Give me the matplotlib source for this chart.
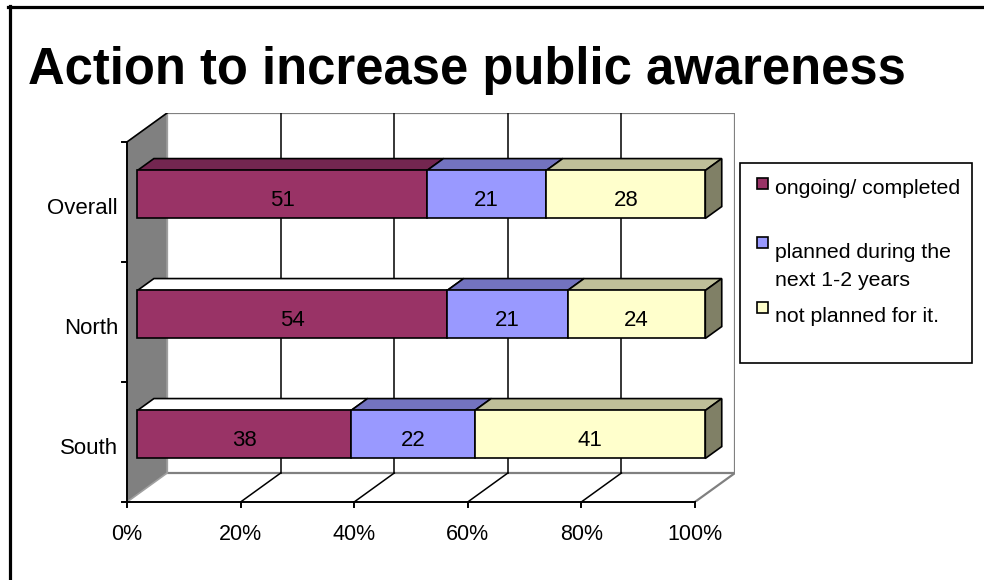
import numpy as np
import matplotlib.pyplot as plt
from matplotlib.patches import Polygon, Rectangle

plt.rcParams['font.family'] = ['Liberation Sans', 'DejaVu Sans']

# Survey answers per region (percent of respondents)
regions = ['South', 'North', 'Overall']
series = ['ongoing/ completed', 'planned during the\nnext 1-2 years', 'not planned for it.']
ongoing = [38, 54, 51]
planned = [22, 21, 21]
not_planned = [41, 24, 28]
xticks = [0, 20, 40, 60, 80, 100]

face_colors = ['#993366', '#9999FF', '#FFFFCC']
top_colors = ['#732650', '#7373BF', '#BFBF99']
side_colors = ['#4D1A33', '#4D4D80', '#808066']
# top faces the old renderer left unshaded
white_tops = {('North', 0), ('South', 0)}

W, H = 984, 580
fig = plt.figure(figsize=(W / 100, H / 100), dpi=100)


def fx(px):
    return px / W


def fy(py):
    return 1 - py / H


# oblique depth of the 3-D box, in data units
DX = 7.07
DY = 0.2417
ncat = len(regions)

ax = fig.add_axes([fx(127), fy(502), fx(735) - fx(127), fy(113) - fy(502)])
ax.set_xlim(0, 100 + DX)
ax.set_ylim(0, ncat + DY)
ax.axis('off')


def proj(x, y, d):
    return (x + d * DX, y + d * DY)


# walls
ax.add_patch(Polygon([proj(0, 0, 1), proj(100, 0, 1), proj(100, ncat, 1), proj(0, ncat, 1)],
                     closed=True, facecolor='white', edgecolor='#808080', lw=1.6, zorder=1))
ax.add_patch(Polygon([proj(0, 0, 0), proj(0, 0, 1), proj(0, ncat, 1), proj(0, ncat, 0)],
                     closed=True, facecolor='#808080', edgecolor='#A0A0A0', lw=1.2, zorder=2))
ax.plot(*zip(proj(0, ncat, 0), proj(0, ncat, 1)), color='black', lw=1.2, zorder=3)
ax.plot(*zip(proj(100, 0, 0), proj(100, 0, 1)), color='#808080', lw=1.6, zorder=3)

# gridlines on back wall and floor
for t in xticks[1:-1]:
    ax.plot(*zip(proj(t, 0, 1), proj(t, ncat, 1)), color='black', lw=1.1, zorder=2)
    ax.plot(*zip(proj(t, 0, 0), proj(t, 0, 1)), color='black', lw=1.1, zorder=2)

# front axes with ticks
ax.plot([0, 100], [0, 0], color='black', lw=1.4, zorder=4, clip_on=False)
ax.plot([0, 0], [0, ncat], color='black', lw=1.4, zorder=4, clip_on=False)
for t in xticks:
    ax.plot([t, t], [0, -5 / 120], color='black', lw=1.4, clip_on=False, zorder=4)
    ax.annotate(f'{t}%', (t, 0), xytext=(0, -33), textcoords='offset pixels',
                ha='center', va='center', fontsize=15.5)
for k in range(ncat + 1):
    ax.plot([0, -5 / 5.678], [k, k], color='black', lw=1.4, clip_on=False, zorder=4)

# stacked 100% bars
d0, d1 = 0.26, 0.67
h = 0.2
values = np.array([ongoing, planned, not_planned], dtype=float)
totals = values.sum(axis=0)
for i, name in enumerate(regions):
    c = i + 0.5
    ax.annotate(name, (0, c), xytext=(-9, -6), textcoords='offset pixels',
                ha='right', va='center', fontsize=16)
    left = 0.0
    for j in range(len(series)):
        w = values[j, i] / totals[i] * 100
        right = left + w
        front = [proj(left, c - h, d0), proj(right, c - h, d0),
                 proj(right, c + h, d0), proj(left, c + h, d0)]
        top = [proj(left, c + h, d0), proj(right, c + h, d0),
               proj(right, c + h, d1), proj(left, c + h, d1)]
        tc = 'white' if (name, j) in white_tops else top_colors[j]
        ax.add_patch(Polygon(top, closed=True, facecolor=tc, edgecolor='black', lw=1.2, zorder=5))
        ax.add_patch(Polygon(front, closed=True, facecolor=face_colors[j], edgecolor='black', lw=1.2, zorder=6))
        if j == len(series) - 1:
            side = [proj(right, c - h, d0), proj(right, c + h, d0),
                    proj(right, c + h, d1), proj(right, c - h, d1)]
            ax.add_patch(Polygon(side, closed=True, facecolor=side_colors[j], edgecolor='black', lw=1.2, zorder=5))
        cx, cy = proj((left + right) / 2, c, d0)
        ax.annotate(f'{values[j, i]:.0f}', (cx, cy), xytext=(0, -6), textcoords='offset pixels',
                    ha='center', va='center', fontsize=16, zorder=7)
        left = right

# title
fig.text(fx(28), fy(84), 'Action to increase public awareness', fontsize=36.5,
         fontweight='bold', ha='left', va='baseline')

# legend box
fig.add_artist(Rectangle((fx(740), fy(363)), fx(972) - fx(740), fy(163) - fy(363),
                         transform=fig.transFigure, facecolor='white', edgecolor='black', lw=1.2))
legend_rows = [(183, [188]), (243, [252, 280]), (307, [317])]
for j, (sq_y, text_ys) in enumerate(legend_rows):
    fig.add_artist(Rectangle((fx(757), fy(sq_y + 5.5)), fx(11), 11 / H,
                             transform=fig.transFigure, facecolor=face_colors[j],
                             edgecolor='black', lw=1.2))
    for line, ty in zip(series[j].split('\n'), text_ys):
        fig.text(fx(775), fy(ty), line, fontsize=15.3, ha='left', va='center')

# outer frame
fig.add_artist(plt.Line2D([fx(9.5), fx(9.5)], [0, fy(6)], transform=fig.transFigure, color='black', lw=2.3))
fig.add_artist(plt.Line2D([fx(8), 1], [fy(7), fy(7)], transform=fig.transFigure, color='black', lw=2.3))

fig.savefig('out.png', dpi=100, facecolor='white')
